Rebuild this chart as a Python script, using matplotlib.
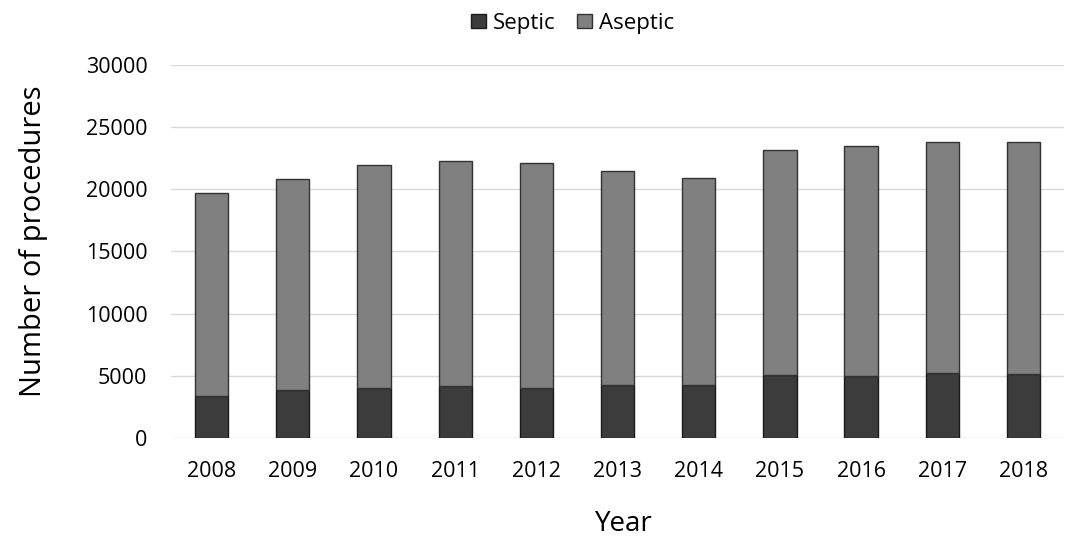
import matplotlib
matplotlib.use("Agg")
import matplotlib.pyplot as plt
import numpy as np

years = ["2008", "2009", "2010", "2011", "2012", "2013", "2014", "2015", "2016", "2017", "2018"]
septic = [3350, 3850, 4000, 4200, 4050, 4300, 4300, 5100, 5020, 5250, 5170]
total = [19700, 20800, 21950, 22300, 22150, 21450, 20950, 23150, 23500, 23800, 23800]
aseptic = [t - s for t, s in zip(total, septic)]

plt.rcParams['font.family'] = ['Open Sans', 'DejaVu Sans']

fig = plt.figure(figsize=(10.71, 5.38), dpi=100)
ax = fig.add_axes([0.1597, 0.1859, 0.8338, 0.6933])

x = np.arange(len(years))
w = 0.41
ax.bar(x, septic, w, color="#3c3c3c", edgecolor="#1a1a1a", linewidth=1, label="Septic", zorder=3)
ax.bar(x, aseptic, w, bottom=septic, color="#808080", edgecolor="#333333", linewidth=1, label="Aseptic", zorder=3)

ax.set_xlim(-0.5, len(years) - 0.5)
ax.set_ylim(0, 30000)
ax.set_yticks(np.arange(0, 30001, 5000))
ax.set_xticks(x)
ax.set_xticklabels(years)
ax.tick_params(axis="both", length=0, labelsize=15.5, colors="#000000")
ax.tick_params(axis="y", pad=17)
ax.tick_params(axis="x", pad=16.5)
ax.grid(axis="y", color="#d9d9d9", linewidth=1, zorder=0)
for s in ax.spines.values():
    s.set_visible(False)

ax.set_ylabel("Number of procedures", fontsize=21)
ax.yaxis.set_label_coords(-0.138, 0.527)
ax.set_xlabel("Year", fontsize=20)
ax.xaxis.set_label_coords(0.507, -0.193)

fig.legend(loc="center", bbox_to_anchor=(0.5345, 0.957), ncol=2, frameon=False,
           fontsize=16, handlelength=0.68, handleheight=0.6, handletextpad=0.3,
           columnspacing=0.95)

fig.savefig("out.png", dpi=100)
